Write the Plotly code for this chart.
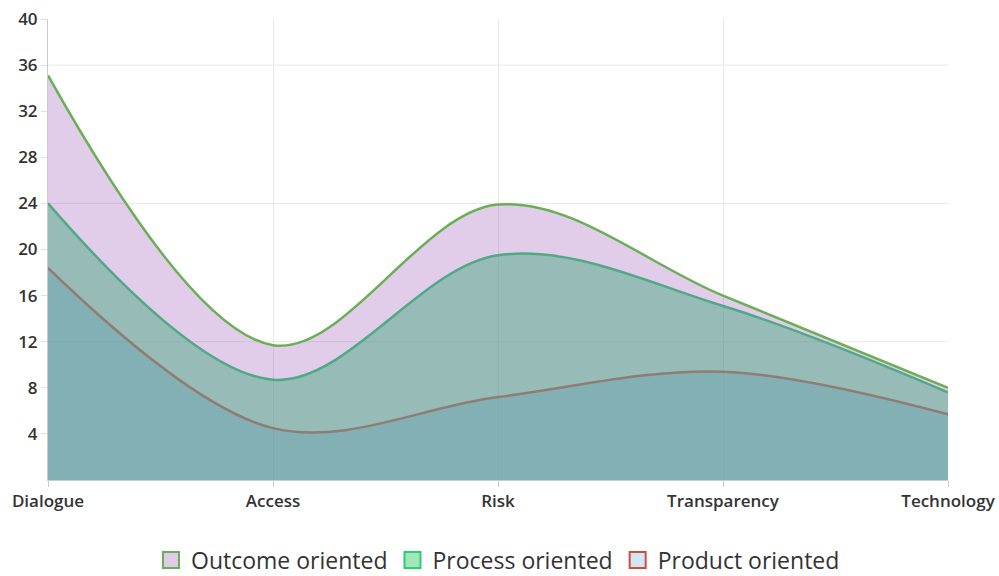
import plotly.graph_objects as go

categories = ["Dialogue", "Access", "Risk", "Transparency", "Technology"]
product_oriented = [18.4, 4.5, 7.2, 9.4, 5.7]
process_oriented = [24.0, 8.7, 19.5, 15.1, 7.6]
outcome_oriented = [35.1, 11.7, 23.9, 16.0, 8.0]
y_ticks = [4, 8, 12, 16, 20, 24, 28, 32, 36, 40]
grid_y = [12, 24, 36]

series = [
    ("Product oriented", product_oriented, "rgba(52,152,219,0.30)", "#e74c3c", "#d2e6f5", "#c9503f"),
    ("Process oriented", process_oriented, "rgba(46,204,113,0.50)", "#2ecc71", "#a0e8bc", "#2ecc71"),
    ("Outcome oriented", outcome_oriented, "rgba(155,89,182,0.30)", "#6aaf55", "#e0cbe8", "#6aaf55"),
]

fig = go.Figure()
for name, vals, fillc, linec, legfill, legline in series:
    fig.add_trace(go.Scatter(
        x=categories, y=vals, mode="lines", fill="tozeroy", fillcolor=fillc,
        line=dict(color=linec, width=2.5, shape="spline", smoothing=1.0),
        name=name, showlegend=False, hoverinfo="skip",
    ))

legend_order = ["Outcome oriented", "Process oriented", "Product oriented"]
lookup = {s[0]: s for s in series}
for name in legend_order:
    _, _, _, _, legfill, legline = lookup[name]
    fig.add_trace(go.Scatter(
        x=[None], y=[None], mode="markers", name=name,
        marker=dict(symbol="square", size=20, color=legfill,
                    line=dict(color=legline, width=2)),
    ))

for gy in grid_y:
    fig.add_hline(y=gy, line=dict(color="#e8e8e8", width=1), layer="below")

tickfont = dict(family="Open Sans", size=17, color="#333333", weight=600)

fig.update_layout(
    width=999, height=620,
    margin=dict(l=48, r=51, t=19, b=140),
    paper_bgcolor="white", plot_bgcolor="white",
    font=dict(family="Open Sans", color="#333333"),
    showlegend=True,
    legend=dict(orientation="h", x=0.5, xanchor="center", y=-0.1735, yanchor="middle",
                font=dict(size=23, color="#333333"), itemsizing="trace",
                traceorder="normal", itemclick=False, itemdoubleclick=False),
    xaxis=dict(
        type="category", range=[0, 4], showgrid=True, gridcolor="#e8e8e8",
        showline=True, linecolor="#cccccc", linewidth=1, automargin=False,
        ticks="outside", ticklen=6, tickcolor="#cccccc", ticklabeloverflow="allow",
        tickfont=tickfont, zeroline=False,
    ),
    yaxis=dict(
        range=[0, 40], tickvals=y_ticks, showgrid=False, automargin=False,
        showline=True, linecolor="#cccccc", linewidth=1, ticklabeloverflow="allow",
        ticks="outside", ticklen=6, tickcolor="#e0e0e0",
        tickfont=tickfont, zeroline=False,
    ),
)

fig.write_html(
    "out.html",
    config={"displayModeBar": False},
    post_script="document.body.style.margin='0';document.body.style.overflow='hidden';"
                "document.documentElement.style.overflow='hidden';",
)
